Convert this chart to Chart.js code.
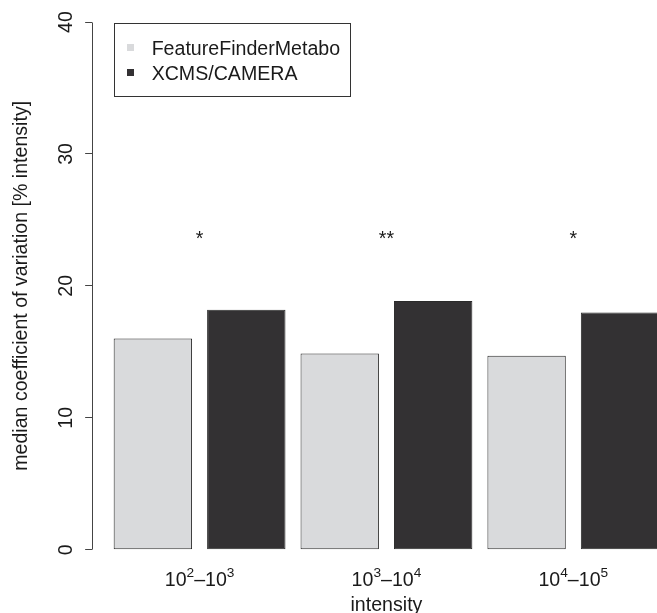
<!DOCTYPE html>
<html>
<head>
<meta charset="utf-8">
<script src="https://cdn.jsdelivr.net/npm/chart.js@4"></script>
<style>
  html, body { margin: 0; padding: 0; overflow: hidden; background: #fff; }
  #wrap { width: 700px; height: 630px; }
</style>
</head>
<body>
<div id="wrap"><canvas id="cvChart" width="700" height="630"></canvas></div>
<script>
// data
const categories = ["10^2–10^3", "10^3–10^4", "10^4–10^5"];
const seriesNames = ["FeatureFinderMetabo", "XCMS/CAMERA"];
const featureFinderCV = [16.0, 14.88, 14.7];
const xcmsCameraCV = [18.18, 18.86, 17.98];
const significance = ["*", "**", "*"];
const significanceLevel = 23.85;
const yTicks = [0, 10, 20, 30, 40];

const FONT = '"Liberation Sans", Arial, Helvetica, sans-serif';
const FSIZE = 19.6;
const TEXT = "#1a1a1a";

// R-style axis line, x labels with exponents, stars and boxed legend
const rStylePlugin = {
  id: "rStyle",
  afterDraw(chart) {
    const ctx = chart.ctx;
    const xs = chart.scales.x;
    const ys = chart.scales.y;
    const area = chart.chartArea;
    ctx.save();

    // y axis line, only from first to last tick
    const ax = Math.round(area.left - 14) + 0.5;
    ctx.strokeStyle = "#444";
    ctx.lineWidth = 1;
    ctx.beginPath();
    ctx.moveTo(ax, Math.round(ys.getPixelForValue(yTicks[0]) - 0.5) + 0.5);
    ctx.lineTo(ax, Math.round(ys.getPixelForValue(yTicks[yTicks.length - 1]) - 0.5) + 0.5);
    ctx.stroke();

    // category labels like 10^2–10^3
    ctx.fillStyle = TEXT;
    ctx.textBaseline = "alphabetic";
    ctx.textAlign = "left";
    const big = FSIZE + "px " + FONT;
    const small = (FSIZE * 0.7).toFixed(1) + "px " + FONT;
    categories.forEach((lab, i) => {
      const pieces = [];
      lab.split("–").forEach((part, k) => {
        if (k > 0) pieces.push({ t: "–", sup: false });
        const [b, e] = part.split("^");
        pieces.push({ t: b, sup: false });
        if (e) pieces.push({ t: e, sup: true });
      });
      let w = 0;
      pieces.forEach((p) => {
        ctx.font = p.sup ? small : big;
        p.w = ctx.measureText(p.t).width;
        w += p.w;
      });
      let px = xs.getPixelForTick(i) - w / 2;
      const base = area.bottom + 36.5;
      pieces.forEach((p) => {
        ctx.font = p.sup ? small : big;
        ctx.fillText(p.t, px, p.sup ? base - 9 : base);
        px += p.w;
      });
    });

    // significance stars
    ctx.font = big;
    ctx.textAlign = "center";
    significance.forEach((s, i) => {
      const m = ctx.measureText(s);
      const yc = ys.getPixelForValue(significanceLevel);
      const shift = (m.actualBoundingBoxAscent - m.actualBoundingBoxDescent) / 2;
      ctx.fillText(s, xs.getPixelForTick(i), yc + shift);
    });

    // legend box
    const lx = area.left + 8;
    const ly = area.top + 0.7;
    ctx.strokeStyle = "#333";
    ctx.strokeRect(Math.round(lx) + 0.5, Math.round(ly) + 0.5, 236, 73);
    ctx.textAlign = "left";
    ctx.font = big;
    chart.data.datasets.forEach((ds, k) => {
      const cy = ly + 24.5 + k * 25;
      ctx.fillStyle = ds.backgroundColor;
      ctx.fillRect(Math.round(lx + 13), Math.round(cy - 3.5), 7, 7);
      ctx.fillStyle = TEXT;
      ctx.fillText(ds.label, lx + 37.5, cy + 7.3);
    });

    ctx.restore();
  },
};

const ctx = document.getElementById("cvChart");
new Chart(ctx, {
  type: "bar",
  data: {
    labels: categories,
    datasets: [
      {
        label: seriesNames[0],
        data: featureFinderCV,
        backgroundColor: "#d9dadc",
        borderColor: "#2a2a2a",
        borderWidth: 1,
        borderSkipped: false,
      },
      {
        label: seriesNames[1],
        data: xcmsCameraCV,
        backgroundColor: "#333133",
        borderColor: "#2a2a2a",
        borderWidth: 1,
        borderSkipped: false,
      },
    ],
  },
  options: {
    responsive: false,
    maintainAspectRatio: false,
    animation: false,
    categoryPercentage: 1,
    barPercentage: 0.839,
    layout: { padding: { top: 22, right: 33.25, bottom: 0, left: 0 } },
    scales: {
      x: {
        grid: { display: false },
        border: { display: false },
        ticks: { display: false },
        afterFit: (s) => { s.height = 80.3; },
        title: {
          display: true,
          text: "intensity",
          color: TEXT,
          font: { family: FONT, size: FSIZE },
          padding: { top: 0, bottom: 13 },
        },
      },
      y: {
        min: 0,
        max: 40,
        afterBuildTicks: (s) => { s.ticks = yTicks.map((v) => ({ value: v })); },
        afterFit: (s) => { s.width = 106.15; },
        border: { display: false },
        grid: {
          drawOnChartArea: false,
          drawTicks: true,
          tickLength: 21,
          tickBorderDash: [7, 14],
          tickColor: "#444",
          tickWidth: 1,
        },
        ticks: {
          color: TEXT,
          font: { family: FONT, size: FSIZE },
          minRotation: 90,
          maxRotation: 90,
          crossAlign: "center",
          padding: 8,
        },
        title: {
          display: true,
          text: "median coefficient of variation [% intensity]",
          color: TEXT,
          font: { family: FONT, size: FSIZE },
          padding: { top: 10, bottom: 0 },
        },
      },
    },
    plugins: {
      legend: { display: false },
      tooltip: { enabled: false },
    },
  },
  plugins: [rStylePlugin],
});
</script>
</body>
</html>
